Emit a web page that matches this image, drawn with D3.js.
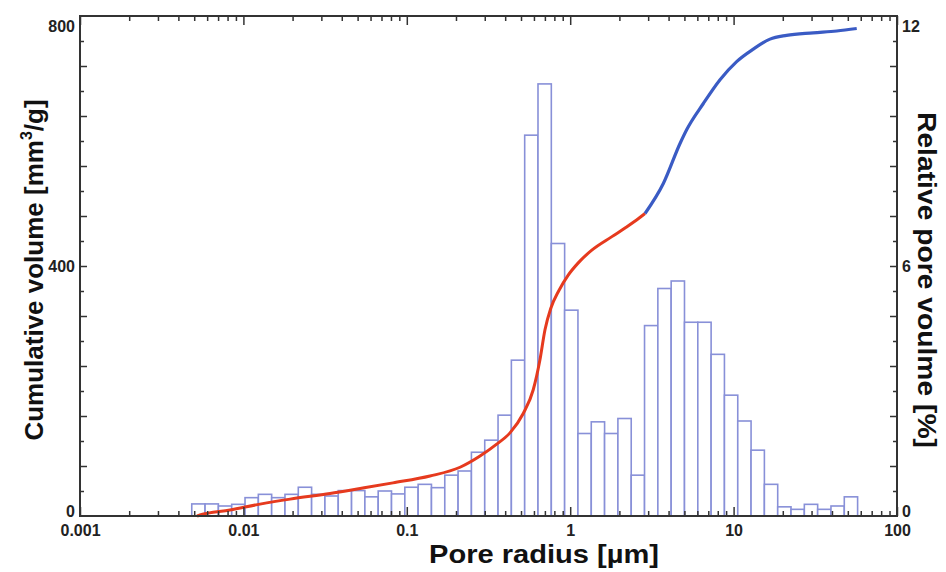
<!DOCTYPE html>
<html>
<head>
<meta charset="utf-8">
<script src="https://cdn.jsdelivr.net/npm/d3@7"></script>
<style>
  body { margin: 0; background: #fff; }
  svg { display: block; font-family: "Liberation Sans", Arial, sans-serif; font-weight: bold; }
</style>
</head>
<body>
<div class="chart"></div>
<script>
// histogram bins (relative pore volume, %), 50 log-spaced bins
const binStart = 0.00483, binEnd = 57.4;
const binValues = [
  0.29, 0.29, 0.24, 0.28, 0.44, 0.52, 0.44, 0.52, 0.69, 0.52,
  0.48, 0.61, 0.61, 0.46, 0.60, 0.53, 0.69, 0.76, 0.68, 0.98,
  1.08, 1.53, 1.82, 2.42, 3.74, 9.14, 10.37, 6.54, 4.94, 1.98,
  2.26, 1.98, 2.34, 0.98, 4.57, 5.46, 5.64, 4.65, 4.65, 3.88,
  2.90, 2.28, 1.58, 0.76, 0.22, 0.16, 0.28, 0.16, 0.24, 0.46
];

// cumulative volume curve, mm3/g (red part, then blue part)
const redRadius = [0.0052, 0.00542, 0.00828, 0.01264, 0.0193, 0.0339, 0.0518, 0.0823, 0.1387, 0.2118,
  0.2806, 0.355, 0.428, 0.516, 0.594, 0.653, 0.701, 0.76, 0.85, 0.97, 1.12, 1.35, 1.80, 2.20, 2.62, 2.87];
const redVolume = [0, 1.6, 9.6, 19, 27, 36, 44, 53, 64, 78,
  96, 115, 133, 164, 202, 250, 298, 332, 360, 385, 405, 425, 447, 462, 476, 484];
const blueRadius = [2.87, 3.715, 4.70, 5.16, 6.53, 8.26, 10.44, 13.2, 16.7, 21.1, 30.7, 42.8, 56.7];
const blueVolume = [484, 532, 596, 618, 660, 698, 727, 747, 763, 769, 773, 776, 780];

const xTicks = [0.001, 0.01, 0.1, 1, 10, 100];
const leftTicks = [0, 400, 800];
const rightTicks = [0, 6, 12];

const margin = {top: 16, right: 49, bottom: 56, left: 80};
const W = 946, H = 572;
const width = W - margin.left - margin.right,
    height = H - margin.top - margin.bottom;

const svg = d3.select(".chart").append("svg")
    .attr("width", W)
    .attr("height", H);

const g = svg.append("g")
    .attr("transform", "translate(" + margin.left + "," + margin.top + ")");

const x = d3.scaleLog().domain([0.001, 100]).range([0, width]);
const yL = d3.scaleLinear().domain([0, 800]).range([height, 0]);
const yR = d3.scaleLinear().domain([0, 12]).range([height, 0]);

// bins
const logStep = (Math.log10(binEnd) - Math.log10(binStart)) / binValues.length;
const bins = binValues.map((v, i) => ({
  x0: Math.pow(10, Math.log10(binStart) + i * logStep),
  x1: Math.pow(10, Math.log10(binStart) + (i + 1) * logStep),
  v: v
}));

g.selectAll(".bar")
  .data(bins)
  .enter().append("rect")
    .attr("class", "bar")
    .attr("x", d => x(d.x0))
    .attr("y", d => yR(d.v))
    .attr("width", d => x(d.x1) - x(d.x0))
    .attr("height", d => height - yR(d.v))
    .attr("fill", "#fff")
    .attr("stroke", "#8890d8")
    .attr("stroke-width", 1.6);

// curves
const line = d3.line()
    .x(d => x(d[0]))
    .y(d => yL(d[1]))
    .curve(d3.curveMonotoneX);

g.append("path")
    .datum(redRadius.map((r, i) => [r, redVolume[i]]))
    .attr("d", line)
    .attr("fill", "none")
    .attr("stroke", "#e63a1e")
    .attr("stroke-width", 3);

g.append("path")
    .datum(blueRadius.map((r, i) => [r, blueVolume[i]]))
    .attr("d", line)
    .attr("fill", "none")
    .attr("stroke", "#3a5bc4")
    .attr("stroke-width", 3.2);

// axes (ticks pointing inward on all four sides)
const minorX = [];
for (let e = -3; e < 2; e++) {
  for (let k = 2; k <= 9; k++) minorX.push(k * Math.pow(10, e));
}
const yMinor = d3.range(40, 800, 80);
const yMid = d3.range(80, 800, 80);

function styleAxis(sel) {
  sel.select(".domain").remove();
  sel.selectAll("line").attr("stroke", "#333").attr("stroke-width", 1.5);
}

// bottom
g.append("g").attr("transform", "translate(0," + height + ")")
  .call(d3.axisTop(x).tickValues(minorX).tickSize(5).tickFormat("")).call(styleAxis);
g.append("g").attr("transform", "translate(0," + height + ")")
  .call(d3.axisTop(x).tickValues(xTicks).tickSize(9).tickFormat("")).call(styleAxis);
g.append("g").attr("class", "xlabels").attr("transform", "translate(0," + height + ")")
  .call(d3.axisBottom(x).tickValues(xTicks).tickSize(0).tickPadding(9)
    .tickFormat(d => d3.format("~g")(d)))
  .call(styleAxis);
// top
g.append("g")
  .call(d3.axisBottom(x).tickValues(minorX).tickSize(5).tickFormat("")).call(styleAxis);
g.append("g")
  .call(d3.axisBottom(x).tickValues(xTicks).tickSize(9).tickFormat("")).call(styleAxis);
// left
g.append("g").call(d3.axisRight(yL).tickValues(yMinor).tickSize(4).tickFormat("")).call(styleAxis);
g.append("g").call(d3.axisRight(yL).tickValues(yMid).tickSize(7).tickFormat("")).call(styleAxis);
g.append("g").attr("class", "ylabels")
  .call(d3.axisLeft(yL).tickValues(leftTicks).tickSize(0).tickPadding(5)).call(styleAxis);
// right
g.append("g").attr("transform", "translate(" + width + ",0)")
  .call(d3.axisLeft(yL).tickValues(yMinor).tickSize(4).tickFormat("")).call(styleAxis);
g.append("g").attr("transform", "translate(" + width + ",0)")
  .call(d3.axisLeft(yL).tickValues(yMid).tickSize(7).tickFormat("")).call(styleAxis);
g.append("g").attr("class", "rlabels").attr("transform", "translate(" + width + ",0)")
  .call(d3.axisRight(yR).tickValues(rightTicks).tickSize(0).tickPadding(5)).call(styleAxis);

g.selectAll(".xlabels text, .ylabels text, .rlabels text")
  .attr("font-family", "Liberation Sans, Arial, sans-serif")
  .attr("font-weight", "bold")
  .attr("font-size", 16)
  .attr("fill", "#222");
// keep the end labels inside the frame like the original
g.selectAll(".ylabels text, .rlabels text")
  .attr("dy", d => (d === 800 || d === 12) ? "0.95em" : (d === 0 ? "0.05em" : "0.32em"));

// frame
g.append("rect")
    .attr("width", width)
    .attr("height", height)
    .attr("fill", "none")
    .attr("stroke", "#333")
    .attr("stroke-width", 2);

// titles
const leftTitle = svg.append("text")
    .attr("transform", "translate(43,270) rotate(-90)")
    .attr("text-anchor", "middle")
    .attr("font-size", 26)
    .attr("fill", "#111");
leftTitle.append("tspan").text("Cumulative volume [mm");
leftTitle.append("tspan").text("3").attr("font-size", 16).attr("dy", -11);
leftTitle.append("tspan").text("/g]").attr("dy", 11);

svg.append("text")
    .attr("transform", "translate(918,280) rotate(90)")
    .attr("text-anchor", "middle")
    .attr("font-size", 26)
    .attr("fill", "#111")
    .attr("textLength", 336)
    .attr("lengthAdjust", "spacingAndGlyphs")
    .text("Relative pore voulme [%]");

svg.append("text")
    .attr("x", 544)
    .attr("y", 563)
    .attr("text-anchor", "middle")
    .attr("font-size", 26)
    .attr("fill", "#111")
    .attr("textLength", 230)
    .attr("lengthAdjust", "spacingAndGlyphs")
    .text("Pore radius [µm]");
</script>
</body>
</html>
